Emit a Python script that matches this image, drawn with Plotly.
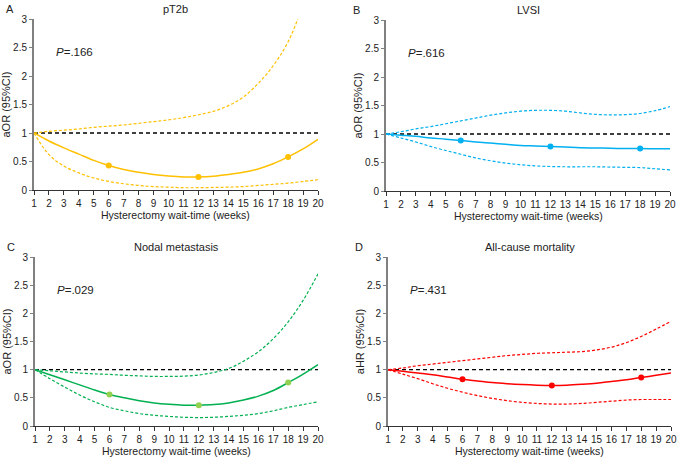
import plotly.graph_objects as go
from plotly.subplots import make_subplots

weeks = list(range(1, 21))
marker_weeks = [6, 12, 18]

titles = ["pT2b", "LVSI", "Nodal metastasis", "All-cause mortality"]
letters = ["A", "B", "C", "D"]
p_values = ["=.166", "=.616", "=.029", "=.431"]
y_titles = ["aOR (95%CI)", "aOR (95%CI)", "aOR (95%CI)", "aHR (95%CI)"]

# estimated curves, one value per week 1..20
pt2b_est = [1.0, 0.86, 0.74, 0.63, 0.52, 0.43, 0.36, 0.31, 0.27, 0.245, 0.23, 0.228,
            0.24, 0.27, 0.31, 0.37, 0.46, 0.58, 0.72, 0.89]
pt2b_hi = [1.0, 1.03, 1.05, 1.07, 1.10, 1.12, 1.14, 1.17, 1.20, 1.23, 1.27, 1.32,
           1.38, 1.48, 1.63, 1.87, 2.18, 2.6, 3.25, 4.0]
pt2b_lo = [1.0, 0.62, 0.42, 0.30, 0.21, 0.15, 0.11, 0.08, 0.06, 0.05, 0.04, 0.04,
           0.045, 0.05, 0.06, 0.08, 0.10, 0.12, 0.15, 0.18]

lvsi_est = [1.0, 0.98, 0.96, 0.93, 0.91, 0.885, 0.86, 0.84, 0.82, 0.80, 0.79, 0.78,
            0.77, 0.76, 0.755, 0.75, 0.745, 0.744, 0.742, 0.74]
lvsi_hi = [1.0, 1.04, 1.09, 1.13, 1.18, 1.23, 1.28, 1.33, 1.37, 1.40, 1.415, 1.415,
           1.40, 1.37, 1.345, 1.335, 1.34, 1.36, 1.41, 1.48]
lvsi_lo = [1.0, 0.93, 0.86, 0.78, 0.71, 0.645, 0.58, 0.53, 0.49, 0.46, 0.44, 0.43,
           0.425, 0.425, 0.425, 0.42, 0.415, 0.41, 0.39, 0.37]

nodal_est = [1.0, 0.91, 0.82, 0.73, 0.64, 0.56, 0.50, 0.45, 0.41, 0.385, 0.37, 0.37,
             0.38, 0.41, 0.46, 0.53, 0.63, 0.77, 0.92, 1.09]
nodal_hi = [1.0, 0.98, 0.96, 0.94, 0.925, 0.915, 0.90, 0.89, 0.88, 0.88, 0.885, 0.905,
            0.95, 1.02, 1.15, 1.32, 1.55, 1.85, 2.23, 2.7]
nodal_lo = [1.0, 0.84, 0.69, 0.55, 0.43, 0.33, 0.27, 0.22, 0.19, 0.17, 0.155, 0.15,
            0.155, 0.17, 0.19, 0.22, 0.27, 0.33, 0.38, 0.43]

mort_est = [1.0, 0.97, 0.94, 0.91, 0.87, 0.83, 0.80, 0.77, 0.75, 0.735, 0.725, 0.72,
            0.725, 0.74, 0.76, 0.79, 0.82, 0.86, 0.90, 0.94]
mort_hi = [1.0, 1.03, 1.07, 1.10, 1.13, 1.16, 1.19, 1.22, 1.25, 1.27, 1.29, 1.30,
           1.31, 1.32, 1.35, 1.40, 1.48, 1.59, 1.72, 1.86]
mort_lo = [1.0, 0.92, 0.84, 0.75, 0.67, 0.60, 0.54, 0.49, 0.45, 0.42, 0.40, 0.39,
           0.39, 0.40, 0.42, 0.44, 0.46, 0.47, 0.47, 0.47]

panels = [
    (pt2b_est, pt2b_hi, pt2b_lo, "#FFC000", "#FFC000"),
    (lvsi_est, lvsi_hi, lvsi_lo, "#00B0F0", "#00B0F0"),
    (nodal_est, nodal_hi, nodal_lo, "#00B050", "#92D050"),
    (mort_est, mort_hi, mort_lo, "#FF0000", "#FF0000"),
]

W, H = 677, 458
# plot areas in pixels: (x0, x1, ytop, ybottom)
boxes = [(34, 318, 19, 190), (386, 670, 20, 191), (35, 318, 257, 426), (388, 671, 257, 426)]

font = "Liberation Sans, Arial, sans-serif"
txt = "#222"
fig = make_subplots(rows=2, cols=2)

for i, (est, hi, lo, col, mcol) in enumerate(panels):
    r, c = i // 2 + 1, i % 2 + 1
    fig.add_trace(go.Scatter(x=[1, 20], y=[1, 1], mode="lines",
                             line=dict(color="black", width=1.3, dash="4px,3px")), row=r, col=c)
    for ci in (hi, lo):
        fig.add_trace(go.Scatter(x=weeks, y=ci, mode="lines", line_shape="spline",
                                 line=dict(color=col, width=1.2, dash="3px,2px")), row=r, col=c)
    fig.add_trace(go.Scatter(x=weeks, y=est, mode="lines", line_shape="spline",
                             line=dict(color=col, width=1.5)), row=r, col=c)
    my = [est[weeks.index(w)] for w in marker_weeks]
    fig.add_trace(go.Scatter(x=marker_weeks, y=my, mode="markers",
                             marker=dict(color=mcol, size=6)), row=r, col=c)

    x0, x1, yt, yb = boxes[i]
    ax = "" if i == 0 else str(i + 1)
    fig.layout["xaxis" + ax].update(domain=[x0 / W, x1 / W])
    fig.layout["yaxis" + ax].update(domain=[1 - yb / H, 1 - yt / H])

    cx = (x0 + x1) / 2 / W
    fig.add_annotation(x=cx, y=1 - (yt - 10) / H, xref="paper", yref="paper",
                       xanchor="center", yanchor="middle",
                       text=titles[i], showarrow=False, font=dict(size=11, color=txt))
    fig.add_annotation(x=(x0 - 30 if c == 1 else x0 - 35) / W, y=1 - (yt - 10) / H,
                       xref="paper", yref="paper", xanchor="left", yanchor="middle",
                       text=letters[i], showarrow=False, font=dict(size=11, color=txt))
    fig.add_annotation(x=cx, y=1 - (yb + 25) / H, xref="paper", yref="paper",
                       xanchor="center", yanchor="middle",
                       text="Hysterectomy wait-time (weeks)", showarrow=False,
                       font=dict(size=10.5, color=txt))
    fig.add_annotation(x=2.35, y=2.42, xref="x" + ax, yref="y" + ax,
                       xanchor="left", yanchor="middle",
                       text="<i>P</i>" + p_values[i], showarrow=False,
                       font=dict(size=11.5, color=txt))

fig.update_xaxes(range=[1, 20], tickvals=weeks, showline=True, linecolor="#333", linewidth=1,
                 ticks="outside", ticklen=4, tickcolor="#333", showgrid=False, zeroline=False,
                 tickfont=dict(size=10, color=txt), automargin=False)
fig.update_yaxes(range=[0, 3], dtick=0.5, showline=True, linecolor="#808080", linewidth=2,
                 ticks="outside", ticklen=3, tickcolor="#808080", showgrid=False, zeroline=False,
                 tickfont=dict(size=10, color=txt), title_standoff=0, automargin=False,
                 title_font=dict(size=11, color=txt))
for i in range(4):
    ax = "" if i == 0 else str(i + 1)
    fig.layout["yaxis" + ax].title.text = y_titles[i]

fig.update_layout(width=W, height=H, margin=dict(l=0, r=0, t=0, b=0),
                  paper_bgcolor="white", plot_bgcolor="white", showlegend=False,
                  font=dict(family=font))
# drop the page's default body margin so the figure sits at the window's corner
fig.write_html("out.html", config={"displayModeBar": False},
               post_script="document.body.style.margin='0';")
